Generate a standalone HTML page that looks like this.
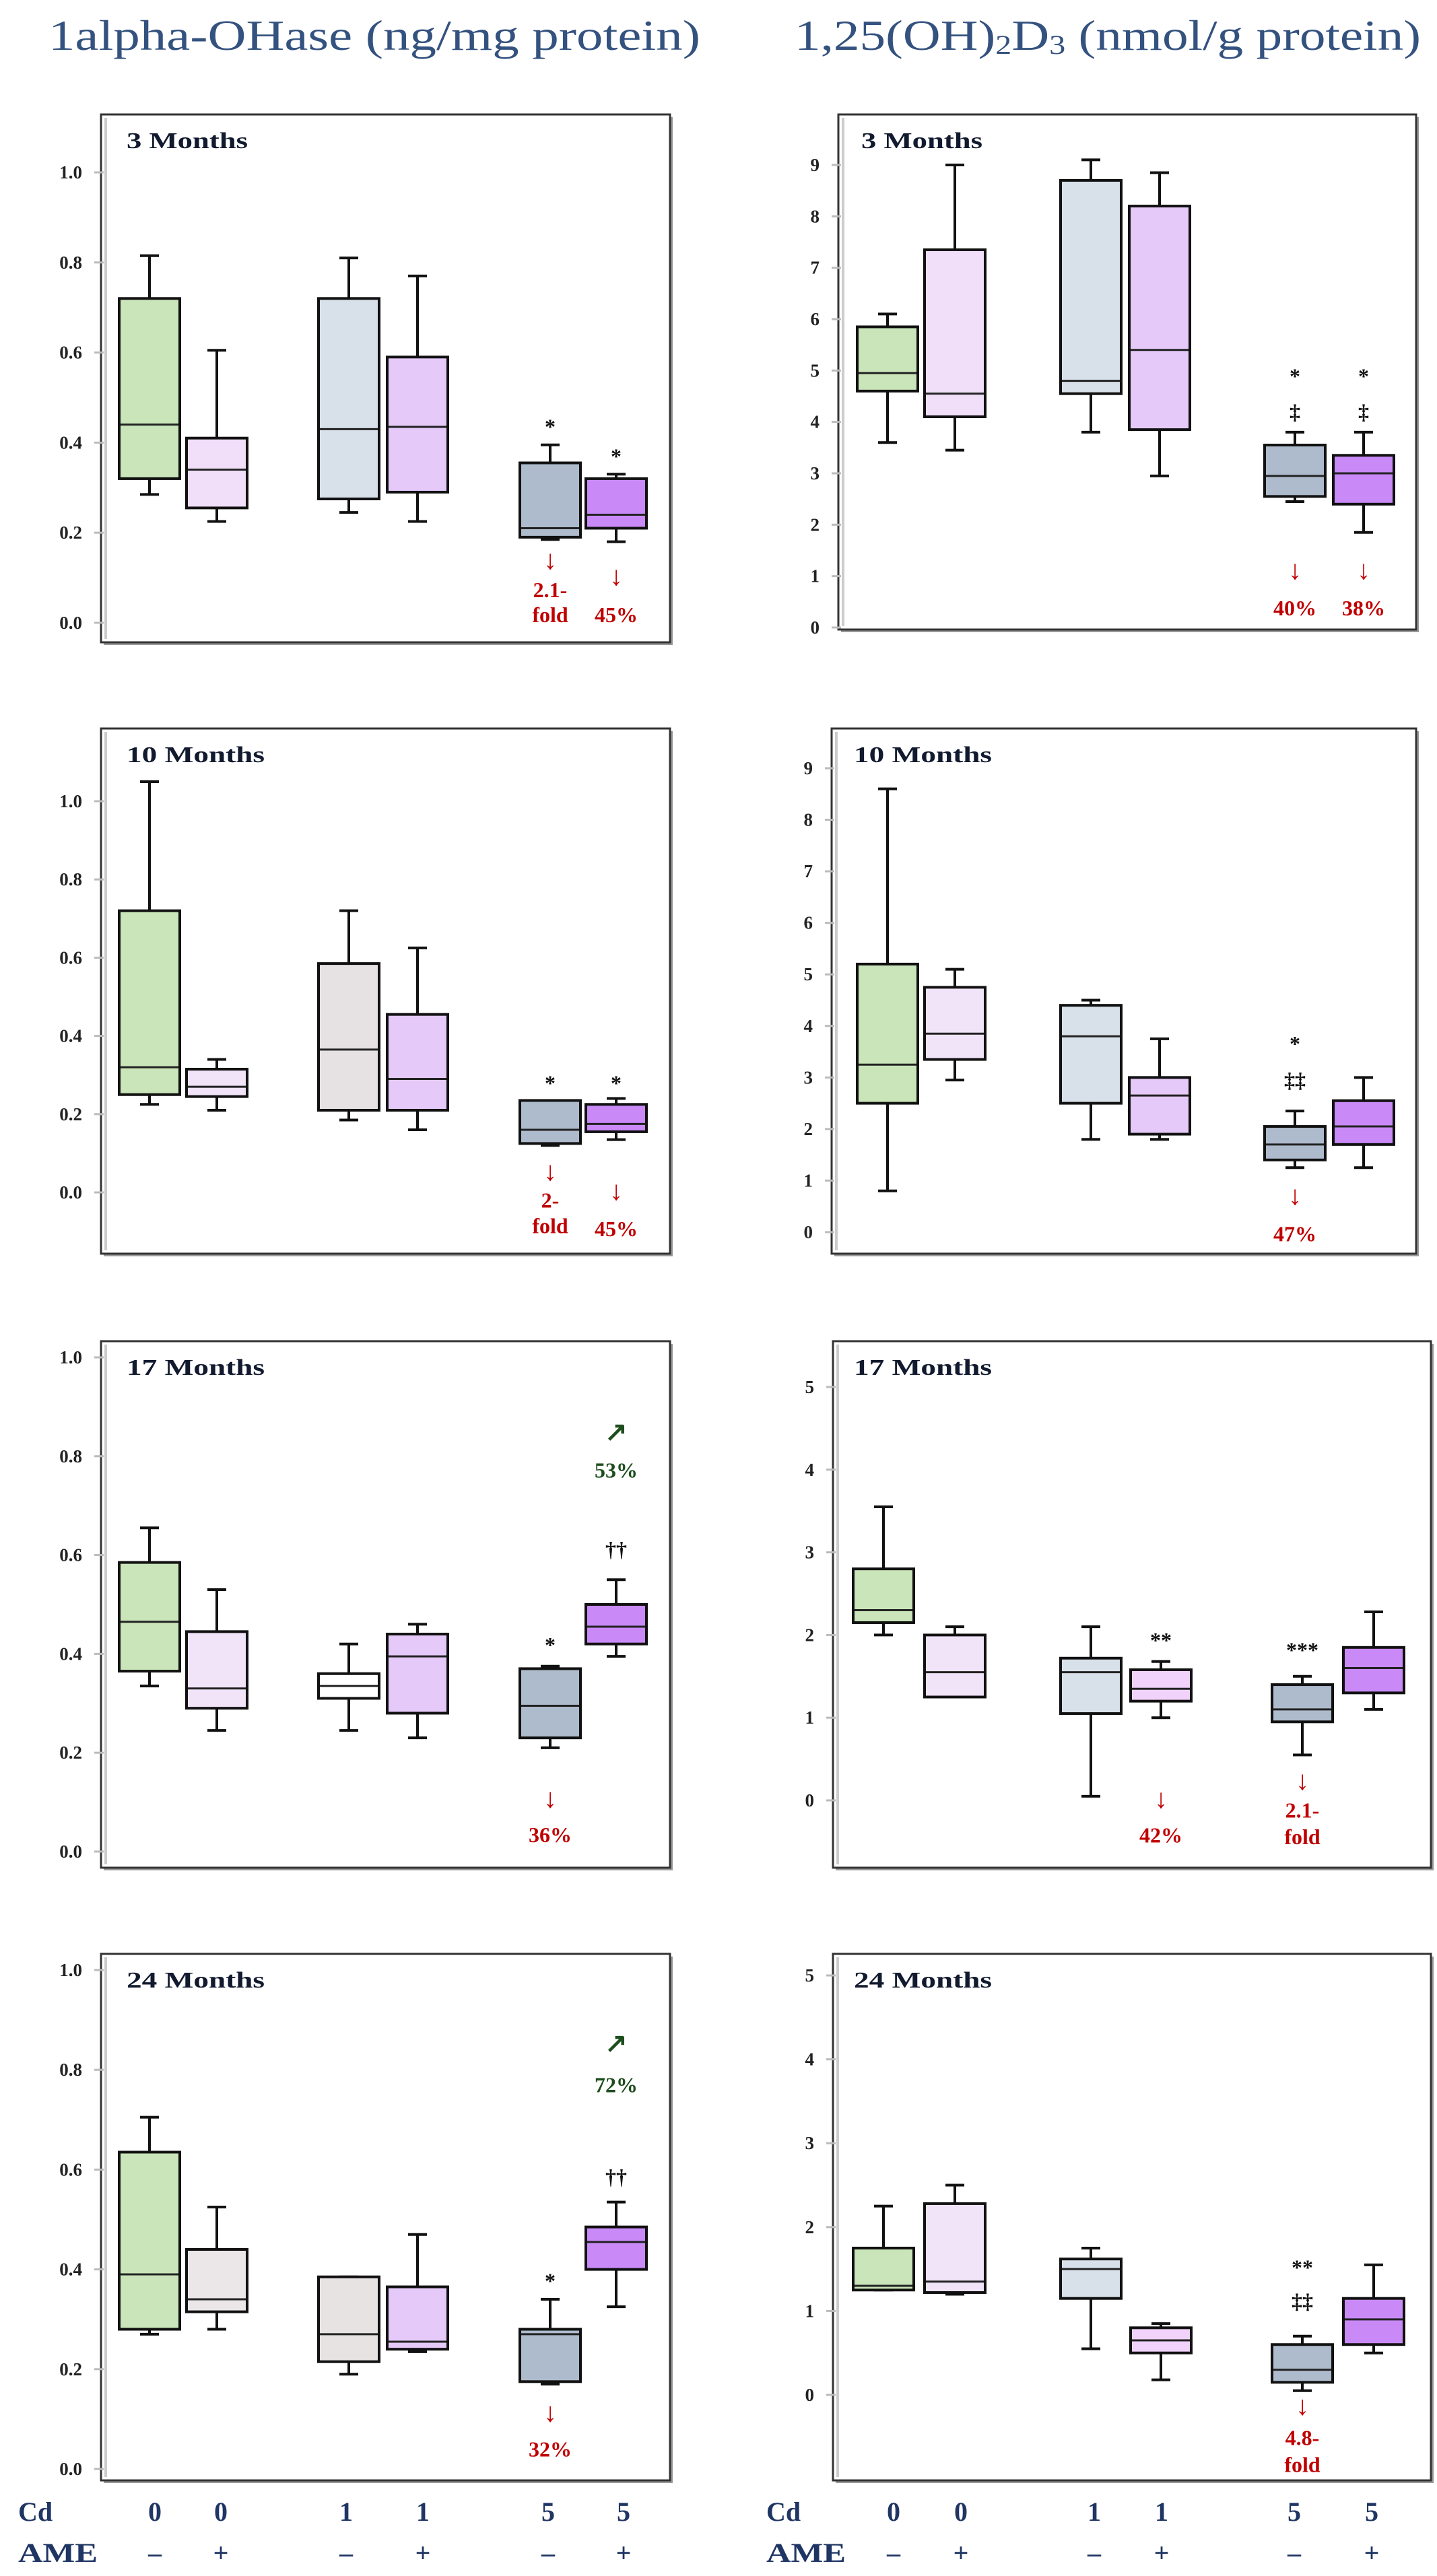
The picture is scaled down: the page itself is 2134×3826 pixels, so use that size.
<!DOCTYPE html>
<html><head><meta charset="utf-8">
<style>
html,body{margin:0;padding:0;background:#fff;}
svg{display:block;}
text{font-family:"Liberation Serif",serif;}
</style></head>
<body>
<svg id="fig" width="2134" height="3826" viewBox="0 0 2134 3826" xmlns="http://www.w3.org/2000/svg">
<text x="72" y="74" font-size="64" fill="#34527f" textLength="968" lengthAdjust="spacingAndGlyphs">1alpha-OHase (ng/mg protein)</text>
<text x="1180" y="74" font-size="64" fill="#34527f" textLength="930" lengthAdjust="spacingAndGlyphs">1,25(OH)<tspan font-size="40" dy="6">2</tspan><tspan dy="-6">D</tspan><tspan font-size="40" dy="6">3</tspan><tspan dy="-6"> (nmol/g protein)</tspan></text>
<g id="panels"></g>
<g id="xlabels"></g>
</svg>
<script>
// ---- data ----
const groups = ["Cd0-AME-","Cd0-AME+","Cd1-AME-","Cd1-AME+","Cd5-AME-","Cd5-AME+"];
const cdLabels = ["0","0","1","1","5","5"];
const ameLabels = ["\u2013","+","\u2013","+","\u2013","+"];
const leftTicks = ["0.0","0.2","0.4","0.6","0.8","1.0"];
const right9Ticks = ["0","1","2","3","4","5","6","7","8","9"];
const right5Ticks = ["0","1","2","3","4","5"];
// [min,q1,median,q3,max]
const l3 = [[0.285,0.32,0.44,0.72,0.815],[0.225,0.255,0.34,0.41,0.605],[0.245,0.275,0.43,0.72,0.81],[0.225,0.29,0.435,0.59,0.77],[0.185,0.19,0.21,0.355,0.395],[0.18,0.21,0.24,0.32,0.33]];
const l10 = [[0.225,0.25,0.32,0.72,1.05],[0.21,0.245,0.27,0.315,0.34],[0.185,0.21,0.365,0.585,0.72],[0.16,0.21,0.29,0.455,0.625],[0.12,0.125,0.16,0.235,0.235],[0.135,0.155,0.175,0.225,0.24]];
const l17 = [[0.335,0.365,0.465,0.585,0.655],[0.245,0.29,0.33,0.445,0.53],[0.245,0.31,0.335,0.36,0.42],[0.23,0.28,0.395,0.44,0.46],[0.21,0.23,0.295,0.37,0.375],[0.395,0.42,0.455,0.5,0.55]];
const l24 = [[0.27,0.28,0.39,0.635,0.705],[0.28,0.315,0.34,0.44,0.525],[0.19,0.215,0.27,0.385,0.385],[0.235,0.24,0.255,0.365,0.47],[0.17,0.175,0.27,0.28,0.34],[0.325,0.4,0.455,0.485,0.535]];
const r3 = [[3.6,4.6,4.95,5.85,6.1],[3.45,4.1,4.55,7.35,9.0],[3.8,4.55,4.8,8.7,9.1],[2.95,3.85,5.4,8.2,8.85],[2.45,2.55,2.95,3.55,3.8],[1.85,2.4,3.0,3.35,3.8]];
const r10 = [[0.8,2.5,3.25,5.2,8.6],[2.95,3.35,3.85,4.75,5.1],[1.8,2.5,3.8,4.4,4.5],[1.8,1.9,2.65,3.0,3.75],[1.25,1.4,1.7,2.05,2.35],[1.25,1.7,2.05,2.55,3.0]];
const r17 = [[2.0,2.15,2.3,2.8,3.55],[1.25,1.25,1.55,2.0,2.1],[0.05,1.05,1.55,1.72,2.1],[1.0,1.2,1.35,1.58,1.68],[0.55,0.95,1.1,1.4,1.5],[1.1,1.3,1.6,1.85,2.28]];
const r24 = [[1.25,1.25,1.3,1.75,2.25],[1.2,1.22,1.35,2.28,2.5],[0.55,1.15,1.5,1.62,1.75],[0.18,0.5,0.65,0.8,0.85],[0.05,0.15,0.3,0.6,0.7],[0.5,0.6,0.9,1.15,1.55]];
// annotations: [group, value, text, color]
const l3Notes = [[4,0.436,"*","#111"],[5,0.37,"*","#111"],[4,0.136,"\u2193","#c00000"],[4,0.073,"2.1-","#c00000"],[4,0.018,"fold","#c00000"],[5,0.10,"\u2193","#c00000"],[5,0.018,"45%","#c00000"]];
const l10Notes = [[4,0.28,"*","#111"],[5,0.28,"*","#111"],[4,0.05,"\u2193","#c00000"],[4,-0.02,"2-","#c00000"],[4,-0.085,"fold","#c00000"],[5,0.0,"\u2193","#c00000"],[5,-0.093,"45%","#c00000"]];
const l17Notes = [[4,0.418,"*","#111"],[5,0.612,"\u2020\u2020","#111"],[5,0.846,"\u2197","#1e4d1e"],[5,0.772,"53%","#1e4d1e"],[4,0.104,"\u2193","#c00000"],[4,0.034,"36%","#c00000"]];
const l24Notes = [[4,0.377,"*","#111"],[5,0.586,"\u2020\u2020","#111"],[5,0.85,"\u2197","#1e4d1e"],[5,0.77,"72%","#1e4d1e"],[4,0.11,"\u2193","#c00000"],[4,0.04,"32%","#c00000"]];
const r3Notes = [[4,4.89,"*","#111"],[4,4.2,"\u2021","#111"],[5,4.89,"*","#111"],[5,4.2,"\u2021","#111"],[4,1.09,"\u2193","#c00000"],[4,0.38,"40%","#c00000"],[5,1.09,"\u2193","#c00000"],[5,0.38,"38%","#c00000"]];
const r10Notes = [[4,3.66,"*","#111"],[4,2.95,"\u2021\u2021","#111"],[4,0.68,"\u2193","#c00000"],[4,-0.03,"47%","#c00000"]];
const r17Notes = [[3,1.94,"**","#111"],[3,0.0,"\u2193","#c00000"],[3,-0.42,"42%","#c00000"],[4,1.82,"***","#111"],[4,0.22,"\u2193","#c00000"],[4,-0.12,"2.1-","#c00000"],[4,-0.44,"fold","#c00000"]];
const r24Notes = [[4,1.52,"**","#111"],[4,1.12,"\u2021\u2021","#111"],[4,-0.15,"\u2193","#c00000"],[4,-0.51,"4.8-","#c00000"],[4,-0.83,"fold","#c00000"]];

// ---- layout ----
const leftCenters = [222,322,518,620,817,915];
const rightCenters = [1318,1418,1620,1722,1923,2025];
const rightCenters2 = [1312,1418,1620,1724,1934,2040];
const fillsA = ["#c9e5b9","#f1dffa","#d8e0ea","#e4c9f9","#aebbcc","#c98af8"];
const panels = [
 {name:"left-3-months",label:"3 Months",data:l3,notes:l3Notes,ticks:leftTicks,tstep:0.2,max:1.0,fx:150,fx2:995,fy:170,fy2:954,y0:925,y1:256,centers:leftCenters,lx:188,fills:fillsA},
 {name:"left-10-months",label:"10 Months",data:l10,notes:l10Notes,ticks:leftTicks,tstep:0.2,max:1.0,fx:150,fx2:995,fy:1082,fy2:1862,y0:1771,y1:1190,centers:leftCenters,lx:188,fills:["#c9e5b9","#f1e3f8","#e6e1e3","#e4c9f9","#aebbcc","#c98af8"]},
 {name:"left-17-months",label:"17 Months",data:l17,notes:l17Notes,ticks:leftTicks,tstep:0.2,max:1.0,fx:150,fx2:995,fy:1992,fy2:2774,y0:2750,y1:2016,centers:leftCenters,lx:188,fills:["#c9e5b9","#f1e3f8","#ffffff","#e4c9f9","#aebbcc","#c98af8"]},
 {name:"left-24-months",label:"24 Months",data:l24,notes:l24Notes,ticks:leftTicks,tstep:0.2,max:1.0,fx:150,fx2:995,fy:2902,fy2:3684,y0:3667,y1:2926,centers:leftCenters,lx:188,fills:["#c9e5b9","#ebe6e8","#e8e3e3","#e4c9f9","#aebbcc","#c98af8"]},
 {name:"right-3-months",label:"3 Months",data:r3,notes:r3Notes,ticks:right9Ticks,tstep:1,max:9,fx:1245,fx2:2103,fy:170,fy2:935,y0:932,y1:245,centers:rightCenters,lx:1279,fills:fillsA},
 {name:"right-10-months",label:"10 Months",data:r10,notes:r10Notes,ticks:right9Ticks,tstep:1,max:9,fx:1235,fx2:2103,fy:1082,fy2:1862,y0:1830,y1:1141,centers:rightCenters,lx:1268,fills:["#c9e5b9","#f1e3f8","#d8e0ea","#e4c9f9","#aebbcc","#c98af8"]},
 {name:"right-17-months",label:"17 Months",data:r17,notes:r17Notes,ticks:right5Ticks,tstep:1,max:5,fx:1237,fx2:2125,fy:1992,fy2:2774,y0:2674,y1:2060,centers:rightCenters2,lx:1268,fills:["#c9e5b9","#f1e3f8","#d8e0ea","#f0d2fa","#aebbcc","#c98af8"]},
 {name:"right-24-months",label:"24 Months",data:r24,notes:r24Notes,ticks:right5Ticks,tstep:1,max:5,fx:1237,fx2:2125,fy:2902,fy2:3684,y0:3557,y1:2934,centers:rightCenters2,lx:1268,fills:["#c9e5b9","#f1e3f8","#d8e0ea","#f0d2fa","#aebbcc","#c98af8"]}
];
const NS="http://www.w3.org/2000/svg";
function mk(tag,attrs,parent){const e=document.createElementNS(NS,tag);for(const k in attrs)e.setAttribute(k,attrs[k]);parent.appendChild(e);return e;}
const root=document.getElementById("panels");
const BW=90;
panels.forEach(p=>{
  const g=mk("g",{},root);
  
  
  const Y=v=>p.y0-(v/p.max)*(p.y0-p.y1);
  const sh=mk("rect",{x:p.fx+4,y:p.fy+4,width:p.fx2-p.fx,height:p.fy2-p.fy,fill:"#999"},g);
  
  
  const fr=mk("rect",{x:p.fx,y:p.fy,width:p.fx2-p.fx,height:p.fy2-p.fy,fill:"#fff",stroke:"#333","stroke-width":3},g);
  
  
  const ax=mk("line",{x1:p.fx+7,x2:p.fx+7,y1:p.fy+5,y2:p.fy2-5,stroke:"#ccc","stroke-width":4},g);
  
  
  const lab=mk("text",{x:p.lx,y:p.fy+50,"font-size":34,"font-weight":"bold",fill:"#111a2e",textLength:p.label.length>8?205:180,lengthAdjust:"spacingAndGlyphs"},g);
  lab.textContent=p.label;
  
  
  p.ticks.forEach((t,i)=>{
    const y=Y(i*p.tstep);
    const tk=mk("line",{x1:p.fx-10,x2:p.fx+4,y1:y,y2:y,stroke:"#bbb","stroke-width":3},g);
    
    
    const tl=mk("text",{x:p.fx-28,y:y+9,"font-size":27,"font-weight":"bold","text-anchor":"end",fill:"#222"},g);
    tl.textContent=t;
    
    
  });
  p.data.forEach((d,i)=>{
    const cx=p.centers[i];
    const bg=mk("g",{},g);
    
    
    const st={stroke:"#111","stroke-width":4};
    mk("line",Object.assign({x1:cx,x2:cx,y1:Y(d[3]),y2:Y(d[4])},st),bg);
    mk("line",Object.assign({x1:cx,x2:cx,y1:Y(d[0]),y2:Y(d[1])},st),bg);
    mk("line",Object.assign({x1:cx-14,x2:cx+14,y1:Y(d[4]),y2:Y(d[4])},st),bg);
    mk("line",Object.assign({x1:cx-14,x2:cx+14,y1:Y(d[0]),y2:Y(d[0])},st),bg);
    mk("rect",Object.assign({x:cx-BW/2,y:Y(d[3]),width:BW,height:Math.max(1,Y(d[1])-Y(d[3])),fill:p.fills[i]},st),bg);
    mk("line",{x1:cx-BW/2+2,x2:cx+BW/2-2,y1:Y(d[2]),y2:Y(d[2]),stroke:"#222","stroke-width":3},bg);
  });
  p.notes.forEach(n=>{
    const isArrow=(n[2]==="\u2193"||n[2]==="\u2197");
    const t=mk("text",{x:p.centers[n[0]],y:Y(n[1])+11,"font-size":isArrow?40:32,"font-weight":"bold","text-anchor":"middle",fill:n[3]},g);
    t.textContent=n[2];
    
    
  });
});
const xl=document.getElementById("xlabels");
[[27,[230,328,514,628,814,926]],[1138,[1327,1427,1625,1725,1922,2037]]].forEach(([lx,cs])=>{
  const c=mk("text",{x:lx,y:3744,"font-size":40,"font-weight":"bold",fill:"#1f3563"},xl);
  c.textContent="Cd";
  
  
  const a=mk("text",{x:lx,y:3805,"font-size":40,"font-weight":"bold",fill:"#1f3563",textLength:118,lengthAdjust:"spacingAndGlyphs"},xl);
  a.textContent="AME";
  
  
  cs.forEach((x,i)=>{
    const t=mk("text",{x:x,y:3744,"font-size":40,"font-weight":"bold","text-anchor":"middle",fill:"#1f3563"},xl);
    t.textContent=cdLabels[i];
    
    
    const u=mk("text",{x:x,y:3805,"font-size":40,"font-weight":"bold","text-anchor":"middle",fill:"#1f3563"},xl);
    u.textContent=ameLabels[i];
    
    
  });
});
</script>
</body></html>
